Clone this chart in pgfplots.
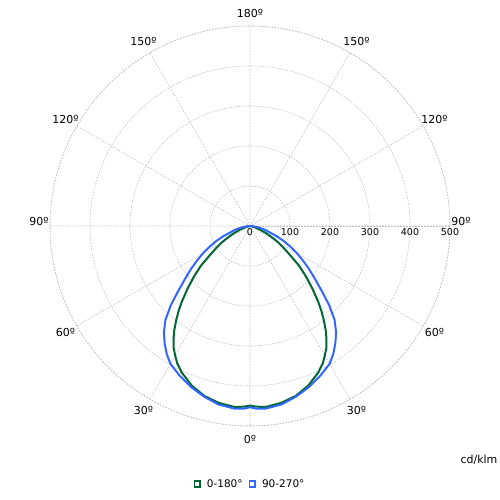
\documentclass[border=0pt]{standalone}
\usepackage{pgfplots}
\pgfplotsset{compat=1.18}
\usepgfplotslibrary{polar}
\usepackage{fontspec}
\setmainfont{DejaVu Sans}
\definecolor{cgreen}{HTML}{006633}
\definecolor{cblue}{HTML}{3366FF}
\begin{document}
\begin{tikzpicture}
\begin{polaraxis}[
  width=400bp, height=400bp, scale only axis,
  ymin=0, ymax=500,
  xtick={0,30,...,330},
  xticklabels={90º,120º,150º,180º,150º,120º,90º,60º,30º,0º,30º,60º},
  ytick={0,100,...,500},
  /pgf/number format/assume math mode=true,
  xticklabel style={font=\fontsize{11bp}{12bp}\selectfont, anchor=center, shift={(\tick:13bp)},
    yshift={4.5bp*((\tick==0)||(\tick==180))},
    xshift={-2bp*(\tick==0)+2bp*(\tick==180)}},
  yticklabel style={font=\fontsize{9.5bp}{10bp}\selectfont, anchor=north, inner sep=2.5bp},
  grid=major,
  major grid style={gray!50, line width=0.6bp, dash pattern=on 1.5bp off 1.5bp},
  axis line style={gray!50, line width=0.6bp, dash pattern=on 1.5bp off 1.5bp},
  major tick length=0pt,
  legend style={at={(0.5,-0.145)}, anchor=center, draw=none, legend columns=2,
    font=\fontsize{10.5bp}{12bp}\selectfont, column sep=4bp},
  legend image code/.code={\draw[#1, line width=1.8bp, fill=white, solid] (0bp,-2.8bp) rectangle (5.6bp,2.8bp);},
]
\addplot[cgreen, line width=2bp] coordinates {
(-180,0) (-173,2) (-168,6) (-164,14) (-160,26) (-156,44) (-153,60) (-150,80) (-147,100) (-144,124) (-141,158) (-138,188) (-135,220) (-132,255) (-130,278) (-128,300) (-126,322) (-124,342) (-122,360) (-120,374) (-118,388) (-115,404) (-110,425) (-105,440) (-100,449) (-95,454) (-92,452) (-90,449)
(-88,452) (-85,454) (-80,449) (-75,440) (-70,425) (-65,404) (-62,388) (-60,374) (-58,360) (-56,342) (-54,322) (-52,300) (-50,278) (-48,255) (-45,220) (-42,188) (-39,158) (-36,124) (-33,100) (-30,80) (-27,60) (-24,44) (-20,26) (-16,14) (-12,6) (-7,2) (0,0)
};
\addlegendentry{0-180°}
\addplot[cblue, line width=2bp] coordinates {
(-180,0) (-175,8) (-170,22) (-166,38) (-162,52) (-159,72) (-156,92) (-153,113) (-150,135) (-147,157) (-144,182) (-141,208) (-138,240) (-135,280) (-132,316) (-129,342) (-126,363) (-123,382) (-120,398) (-115,414) (-110,429) (-105,442) (-100,453) (-95,458) (-92,457) (-90,453)
(-88,457) (-85,458) (-80,453) (-75,442) (-70,429) (-65,414) (-60,398) (-57,382) (-54,363) (-51,342) (-48,316) (-45,280) (-42,240) (-39,208) (-36,182) (-33,157) (-30,135) (-27,113) (-24,92) (-21,72) (-18,52) (-14,38) (-10,22) (-5,8) (0,0)
};
\addlegendentry{90-270°}
\coordinate (c) at (axis cs:0,0);
\end{polaraxis}
\path (c) ++(229bp,-234bp) node[font=\fontsize{11bp}{12bp}\selectfont] {cd/klm};
\pgfresetboundingbox
\path (c) ++(-250bp,226bp) rectangle ++(500bp,-500bp);
\end{tikzpicture}
\end{document}
